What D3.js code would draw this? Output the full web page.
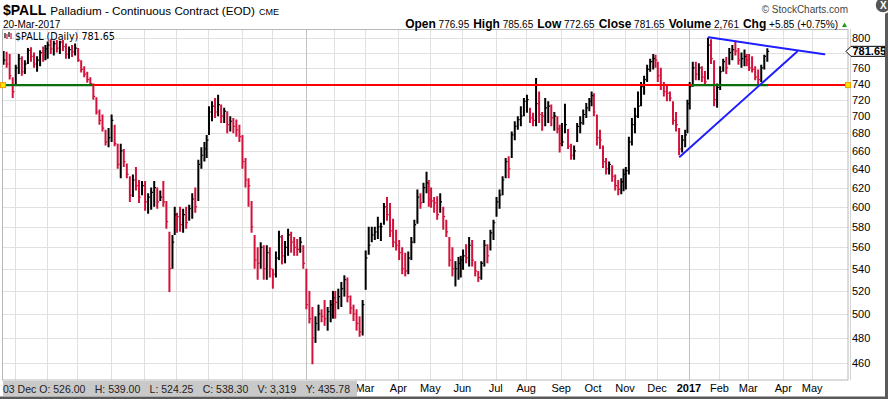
<!DOCTYPE html>
<html><head><meta charset="utf-8">
<script src="https://cdn.jsdelivr.net/npm/d3@7/dist/d3.min.js"></script>
<style>html,body{margin:0;padding:0;background:#fff}svg{display:block;font-family:"Liberation Sans",Arial,sans-serif}</style>
</head><body>
<svg id="chart" width="888" height="399"></svg>
<script>
// ===== DATA =====
// Each month: bars of two trading days each: [high, low, close]
const months = ["2015-03","2015-04","2015-05","2015-06","2015-07","2015-08","2015-09","2015-10","2015-11","2015-12",
  "2016-01","2016-02","2016-03","2016-04","2016-05","2016-06","2016-07","2016-08","2016-09","2016-10","2016-11","2016-12",
  "2017-01","2017-02","2017-03"];
const monthBars = [
  [[782,764,770],[781,760,765],[778,745,750],[748,722,730]],
  [[764,738,760],[778,752,772],[775,750,755],[770,752,765],[786,765,783],[787,768,775],[780,760,765],[775,755,770],[783,762,780],[788,768,778],[790,770,785]],
  [[795,772,790],[798,778,785],[796,776,792],[797,780,786],[796,778,794],[797,782,788],[792,772,778],[788,772,784],[790,774,781],[792,776,786]],
  [[786,768,770],[770,754,758],[762,748,752],[755,741,745],[748,737,740],[740,720,724],[723,702,705],[708,690,695],[702,682,686],[684,666,670],[686,664,675]],
  [[702,670,695],[690,665,668],[668,640,645],[668,630,660],[662,642,648],[646,630,634],[632,605,612],[634,610,628],[642,617,622],[628,604,610],[627,612,622]],
  [[627,596,605],[614,593,610],[620,597,615],[627,600,620],[620,598,605],[617,606,610],[627,600,605],[606,578,585],[575,519,540],[572,540,565],[600,572,592]],
  [[594,574,590],[600,575,582],[598,574,592],[600,578,584],[602,586,598],[614,588,608],[620,594,600],[650,606,645],[664,640,655],[670,648,662],[678,652,672]],
  [[712,678,705],[718,694,712],[722,698,705],[726,700,714],[714,692,700],[710,692,706],[706,680,690],[700,682,694],[698,680,688],[696,676,684],[690,670,676]],
  [[678,640,648],[652,620,628],[630,600,622],[606,574,580],[572,540,548],[560,530,545],[565,540,560],[562,530,540],[562,530,555],[560,532,540]],
  [[540,522,535],[556,532,550],[576,548,570],[572,544,552],[566,545,560],[578,552,572],[575,555,565],[570,552,560],[568,552,558],[570,555,565],[562,540,545]],
  [[540,504,508],[520,492,496],[506,459,480],[498,476,492],[508,486,500],[504,493,498],[512,490,496],[506,486,502],[512,493,508],[520,496,514]],
  [[520,496,510],[522,504,515],[528,506,522],[534,515,530],[532,510,515],[516,500,505],[508,494,500],[504,486,492],[498,481,485],[512,482,508]],
  [[557,521,550],[580,553,562],[580,565,572],[580,567,575],[590,568,580],[584,566,580],[604,582,600],[610,586,592],[604,570,576],[588,560,565],[577,557,562]],
  [[567,548,555],[560,535,540],[555,533,538],[556,535,550],[570,548,565],[587,564,582],[618,583,610],[614,598,604],[625,604,620],[637,614,625],[628,600,608]],
  [[620,599,606],[610,594,604],[611,587,592],[614,594,605],[600,577,590],[587,570,575],[570,542,548],[560,533,540],[547,524,540],[551,530,545],[552,532,548]],
  [[558,539,552],[563,545,550],[570,542,562],[567,542,548],[547,533,538],[538,528,532],[547,530,545],[567,542,562],[563,545,552],[577,557,574],[587,567,584]],
  [[610,590,605],[618,598,612],[632,612,628],[652,630,648],[654,630,640],[682,652,678],[694,672,688],[700,684,696],[712,688,700],[722,700,718]],
  [[726,704,720],[710,692,698],[704,688,695],[747,688,715],[730,692,702],[705,683,700],[722,688,710],[718,692,712],[714,688,698],[705,683,700],[700,680,685],[690,658,668]],
  [[692,665,670],[715,680,690],[685,662,665],[668,650,655],[666,650,660],[692,670,688],[700,680,692],[708,690,702],[716,698,710],[722,706,718],[730,712,725]],
  [[728,700,705],[702,666,675],[684,662,672],[666,641,648],[652,634,640],[648,634,645],[644,626,632],[634,617,622],[628,612,618],[630,613,626],[640,616,634]],
  [[642,618,638],[676,634,670],[698,666,690],[710,680,700],[730,698,712],[742,712,736],[750,726,745],[764,742,758],[772,755,768],[778,758,772],[777,760,770]],
  [[768,742,750],[760,732,738],[742,724,730],[738,718,728],[730,718,722],[718,690,695],[705,682,690],[686,655,662],[678,658,672],[684,664,678],[720,680,715]],
  [[742,708,736],[768,736,760],[768,744,752],[766,744,760],[762,742,748],[756,738,742],[800,745,790],[798,765,772],[770,712,720],[740,710,735]],
  [[762,732,755],[772,755,768],[774,752,760],[786,764,780],[790,770,784],[796,776,782],[786,764,770],[780,760,772],[784,762,775],[778,762,770]],
  [[778,756,760],[775,754,758],[762,744,748],[758,738,745],[764,742,760],[777,758,775],[785.65,768,781.65]]
];
const lastDate = "2017-03-20";
const lastClose = 781.65;
const yTicks = [460,480,500,520,540,560,580,600,620,640,660,680,700,720,740,760,780,800];
const tickMonths = ["2015-04","2015-05","2015-06","2015-07","2015-08","2015-09","2015-10","2015-11","2015-12","2016-01","2016-02","2016-03",
  "2016-04","2016-05","2016-06","2016-07","2016-08","2016-09","2016-10","2016-11","2016-12","2017-01","2017-02","2017-03","2017-04","2017-05"];
const tickLabels = ["Apr","May","Jun","Jul","Aug","Sep","Oct","Nov","Dec","2016","Feb","Mar",
  "Apr","May","Jun","Jul","Aug","Sep","Oct","Nov","Dec","2017","Feb","Mar","Apr","May"];
const holidays = ["2015-04-03","2015-05-25","2015-07-03","2015-09-07","2015-11-26","2015-12-25","2016-01-01","2016-01-18","2016-02-15",
  "2016-03-25","2016-05-30","2016-07-04","2016-09-05","2016-11-24","2016-12-26","2017-01-02","2017-01-16","2017-02-20","2017-04-14","2017-05-29"];
const hLinePrice = 738;
const greenSegments = [["2015-03-20","2015-06-15"],["2017-01-05","2017-03-20"]];
const trendLines = [[["2016-12-22",653.4],["2017-04-17",781.2]],[["2017-01-23",800.5],["2017-05-11",777.7]]];
const quoteLabels = ["Open","High","Low","Close","Volume","Chg"];
const quoteValues = ["776.95","785.65","772.65","781.65","2,761","+5.85 (+0.75%)"];
const infoItems = ["03 Dec","O: 526.00","H: 539.00","L: 524.25","C: 538.30","V: 3,319","Y: 435.78"];

// ===== LAYOUT =====
const P = {l:3, r:848, t:29.5, b:380};
const svg = d3.select("#chart");
const fmt = d3.utcFormat("%Y-%m-%d");
const hol = new Set(holidays);
const days = d3.utcDays(new Date(Date.UTC(2015,2,20)), new Date(Date.UTC(2017,6,1)))
  .filter(d => { const w = d.getUTCDay(); return w !== 0 && w !== 6 && !hol.has(fmt(d)); });
const dayKeys = days.map(fmt);
const dayIdx = new Map(dayKeys.map((k,i)=>[k,i]));
const x = d3.scaleLinear().domain([dayIdx.get("2015-04-01"), dayIdx.get("2017-03-01")]).range([15, 748.3]);
const y = d3.scaleLog().domain([460, 800]).range([363, 37.7]);
const xd = s => x(dayIdx.get(s));
const monthStart = m => dayKeys.findIndex(k => k.startsWith(m));

const bars = [];
months.forEach((m, mi) => {
  const md = dayKeys.filter(k => k.startsWith(m) && k <= lastDate);
  monthBars[mi].forEach((b, j) => {
    const k0 = md[2*j]; if (!k0) return;
    const k1 = md[2*j+1] || k0;
    bars.push({i:(dayIdx.get(k0)+dayIdx.get(k1))/2, h:b[0], l:b[1], c:b[2]});
  });
});
bars.forEach((b,k) => { b.up = k === 0 || b.c >= bars[k-1].c; b.o = k === 0 ? b.c : bars[k-1].c; });

svg.append("rect").attr("width",888).attr("height",399).attr("fill","#fff");
svg.append("defs").append("clipPath").attr("id","clip").append("rect")
  .attr("x",P.l).attr("y",P.t).attr("width",P.r-P.l).attr("height",P.b-P.t);

// grid
const grid = svg.append("g").attr("clip-path","url(#clip)");
grid.selectAll("line.hg").data(yTicks).join("line").attr("class","hg")
  .attr("x1",P.l).attr("x2",P.r).attr("y1",d=>Math.round(y(d))+0.5).attr("y2",d=>Math.round(y(d))+0.5)
  .attr("stroke","#e0e0e0").attr("stroke-width",1);
grid.selectAll("line.vg").data(tickMonths).join("line").attr("class","vg")
  .attr("x1",d=>Math.round(x(monthStart(d)))+0.5).attr("x2",d=>Math.round(x(monthStart(d)))+0.5)
  .attr("y1",P.t).attr("y2",P.b)
  .attr("stroke",d=>d.endsWith("-01")?"#c0c0c0":"#e0e0e0").attr("stroke-width",1);

// bars
const bg = svg.append("g").attr("clip-path","url(#clip)");
const col = d => d.up ? "#000000" : "#d3123c";
bg.selectAll("line.hl").data(bars).join("line").attr("class","hl")
  .attr("x1",d=>x(d.i)).attr("x2",d=>x(d.i)).attr("y1",d=>y(d.h)).attr("y2",d=>y(d.l))
  .attr("stroke",col).attr("stroke-width",2);
bg.selectAll("line.cl").data(bars).join("line").attr("class","cl")
  .attr("x1",d=>x(d.i)).attr("x2",d=>x(d.i)+1.8).attr("y1",d=>y(d.c)).attr("y2",d=>y(d.c))
  .attr("stroke",col).attr("stroke-width",1.2);

// annotations
const an = svg.append("g").attr("clip-path","url(#clip)");
an.append("line").attr("x1",P.l).attr("x2",P.r).attr("y1",y(hLinePrice)).attr("y2",y(hLinePrice))
  .attr("stroke","#ff0000").attr("stroke-width",2);
an.selectAll("line.gs").data(greenSegments).join("line").attr("class","gs")
  .attr("x1",d=>xd(d[0])).attr("x2",d=>xd(d[1])).attr("y1",y(hLinePrice)).attr("y2",y(hLinePrice))
  .attr("stroke","#0b6e0b").attr("stroke-width",2.2);
an.selectAll("line.tl").data(trendLines).join("line").attr("class","tl")
  .attr("x1",d=>xd(d[0][0])).attr("y1",d=>y(d[0][1])).attr("x2",d=>xd(d[1][0])).attr("y2",d=>y(d[1][1]))
  .attr("stroke","#1e1eff").attr("stroke-width",2).attr("stroke-linecap","round");

// frame
svg.append("rect").attr("x",P.l-0.5).attr("y",P.t).attr("width",P.r-P.l+0.5).attr("height",P.b-P.t)
  .attr("fill","none").attr("stroke","#b8b8b8").attr("stroke-width",1);
svg.append("line").attr("x1",P.r+2.5).attr("x2",P.r+2.5).attr("y1",P.t).attr("y2",P.b)
  .attr("stroke","#aaa").attr("stroke-dasharray","1,1");

// handles
[P.l, P.r].forEach(hx => svg.append("rect").attr("x",hx-2.5).attr("y",y(hLinePrice)-2.5).attr("width",5).attr("height",5)
  .attr("fill","#ffe400").attr("stroke","#e8a000").attr("stroke-width",1));

// y axis labels
svg.append("g").selectAll("text").data(yTicks.filter(v=>v!==780)).join("text")
  .attr("x",852).attr("y",d=>y(d)+4).attr("font-size",11).attr("fill","#000").text(d=>d);
// last price tag
const yl = y(lastClose);
svg.append("path").attr("d",`M846,${yl} L851,${yl-5} L885,${yl-5} L885,${yl+5} L851,${yl+5} Z`)
  .attr("fill","#fff").attr("stroke","#000").attr("stroke-width",1);
svg.append("text").attr("x",852.5).attr("y",yl+4).attr("font-size",11).attr("font-weight","bold").text(lastClose.toFixed(2));

// legend
const lg = svg.append("g");
[[5,33,38,"#000"],[7,34,39,"#d3123c"],[9,32,37,"#000"],[11,33,39,"#d3123c"]].forEach(([lx,a,b,c])=>
  lg.append("line").attr("x1",lx).attr("x2",lx).attr("y1",a).attr("y2",b).attr("stroke",c).attr("stroke-width",1.2));
lg.append("text").attr("x",15).attr("y",39.5).attr("font-size",9.6).attr("font-family","'DejaVu Sans',Verdana,sans-serif").text("$PALL (Daily) 781.65");

// x axis labels (the ones under the hover bar are not shown)
svg.append("g").selectAll("text").data(tickMonths.filter(m=>x(monthStart(m))>355)).join("text")
  .attr("x",d=>x(monthStart(d))).attr("y",391.5).attr("text-anchor","middle").attr("font-size",11)
  .attr("font-weight",d=>/^\d{4}$/.test(tickLabels[tickMonths.indexOf(d)])?"bold":"normal")
  .text(d=>tickLabels[tickMonths.indexOf(d)]);

// hover info bar
svg.append("rect").attr("x",3).attr("y",381).attr("width",354).attr("height",15).attr("fill","#c9c9c9");
const infoG = svg.append("g");
const infoT = infoItems.map(t => infoG.append("text").attr("y",392.5).attr("font-size",10.5).attr("fill","#222").text(t));
const wI = infoT.map(t => t.node().getComputedTextLength());
const gapI = (350 - 3 - d3.sum(wI) - 3) / (infoItems.length - 2);
let cx = 3;
infoT.forEach((t,i) => { t.attr("x", cx); cx += wI[i] + (i === 0 ? 3 : gapI); });

// outer frame
svg.append("rect").attr("x",0).attr("y",396.5).attr("width",888).attr("height",2.5).attr("fill","#5a5a5a");
svg.append("rect").attr("x",885).attr("y",12).attr("width",3).attr("height",387).attr("fill","#5a5a5a");
svg.append("circle").attr("cx",883).attr("cy",5).attr("r",8).attr("fill","#555").attr("stroke","#fff").attr("stroke-width",1.5);
svg.append("text").attr("x",880).attr("y",9).attr("font-size",10).attr("font-weight","bold").attr("fill","#fff").text("X");

// header
const hd = svg.append("text").attr("x",3).attr("y",15);
hd.append("tspan").attr("font-size",14).attr("font-weight","bold").text("$PALL");
hd.append("tspan").attr("font-size",11.7).attr("dx",4).text("Palladium - Continuous Contract (EOD)");
hd.append("tspan").attr("font-size",9).attr("dx",4).text("CME");
svg.append("text").attr("x",3).attr("y",28).attr("font-size",10).text("20-Mar-2017");
svg.append("text").attr("x",848).attr("y",13).attr("text-anchor","end").attr("font-size",10).attr("fill","#444").text("\u00A9 StockCharts.com");
const qt = svg.append("text").attr("x",838).attr("y",28).attr("text-anchor","end");
quoteLabels.forEach((l,i)=>{
  qt.append("tspan").attr("font-size",12).attr("font-weight","bold").attr("dx", i === 0 ? 0 : 4).text(l);
  qt.append("tspan").attr("font-size",10).text(" " + quoteValues[i]);
});
svg.append("path").attr("d","M842,27 L847,27 L844.5,22.5 Z").attr("fill","#1a9a1a");
</script>
</body></html>
